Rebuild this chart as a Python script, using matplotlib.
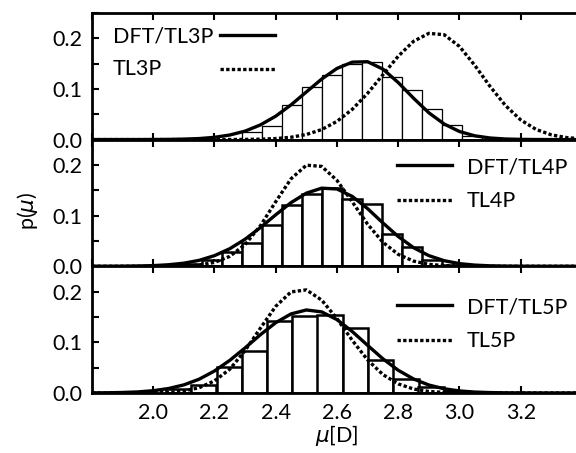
import matplotlib.pyplot as plt
from matplotlib.ticker import MultipleLocator

plt.rcParams['font.family'] = ['Lato', 'DejaVu Sans']
plt.rcParams['font.size'] = 15.5

# dipole moment grid for the fitted curves
mu = [1.80, 1.85, 1.90, 1.95, 2.00, 2.05, 2.10, 2.15, 2.20, 2.25, 2.30,
      2.35, 2.40, 2.45, 2.50, 2.55, 2.60, 2.65, 2.70, 2.75, 2.80, 2.85,
      2.90, 2.95, 3.00, 3.05, 3.10, 3.15, 3.20, 3.25, 3.30, 3.35, 3.40]

# panel 1: TL3P
fit_tl3p = [0, 0, 0, 0, 0.0001, 0.0003, 0.0009, 0.002, 0.0044, 0.009, 0.0167,
            0.0289, 0.0462, 0.0685, 0.094, 0.1194, 0.1404, 0.1528, 0.1536, 0.139, 0.1125, 0.0816,
            0.0528, 0.0307, 0.0159, 0.0074, 0.0031, 0.0011, 0.0004, 0.0001, 0, 0, 0]
ref_tl3p = [0, 0, 0, 0, 0, 0, 0, 0, 0, 0.0001, 0.0003,
            0.0008, 0.002, 0.0046, 0.01, 0.0197, 0.0359, 0.0597, 0.0913, 0.128, 0.1645, 0.1939,
            0.2096, 0.2069, 0.1837, 0.1464, 0.1047, 0.0672, 0.0387, 0.02, 0.0093, 0.0039, 0.0014]
bins_tl3p = [2.289, 2.354, 2.420, 2.485, 2.550, 2.616, 2.681, 2.746, 2.812, 2.877, 2.942, 3.008]
hist_tl3p = [0.015, 0.026, 0.069, 0.103, 0.127, 0.150, 0.153, 0.123, 0.097, 0.061, 0.028, 0.008]

# panel 2: TL4P
fit_tl4p = [0, 0.0001, 0.0002, 0.0006, 0.0013, 0.003, 0.0061, 0.0117, 0.021, 0.0347, 0.0534,
            0.0764, 0.1016, 0.1256, 0.1443, 0.1541, 0.1525, 0.1378, 0.1137, 0.0855, 0.0587, 0.0367,
            0.021, 0.011, 0.0052, 0.0023, 0.0009, 0.0003, 0.0001, 0, 0, 0, 0]
ref_tl4p = [0, 0, 0, 0, 0, 0.0002, 0.0007, 0.0025, 0.0076, 0.0196, 0.0429,
            0.0801, 0.1274, 0.1727, 0.1994, 0.1971, 0.1694, 0.127, 0.083, 0.0473, 0.0235, 0.0102,
            0.0038, 0.0013, 0.0004, 0.0001, 0, 0, 0, 0, 0, 0, 0]
bins_tl4p = [2.093, 2.158, 2.224, 2.289, 2.354, 2.420, 2.485, 2.550, 2.616, 2.681, 2.746,
             2.812, 2.877, 2.942]
hist_tl4p = [0.004, 0.013, 0.029, 0.046, 0.082, 0.120, 0.142, 0.155, 0.133, 0.122, 0.064,
             0.039, 0.013, 0.003]

# panel 3: TL5P
fit_tl5p = [0.0002, 0.0004, 0.001, 0.0021, 0.0045, 0.0088, 0.016, 0.0272, 0.0434, 0.0644, 0.089,
            0.115, 0.1387, 0.156, 0.1638, 0.16, 0.1447, 0.1212, 0.094, 0.0674, 0.0448, 0.0276,
            0.0157, 0.0083, 0.004, 0.0018, 0.0008, 0.0003, 0.0001, 0, 0, 0, 0]
ref_tl5p = [0, 0, 0, 0.0001, 0.0004, 0.0013, 0.004, 0.0104, 0.0239, 0.0469, 0.0837,
            0.128, 0.171, 0.1994, 0.2034, 0.1833, 0.1466, 0.1037, 0.0652, 0.0363, 0.0179, 0.0078,
            0.003, 0.001, 0.0003, 0.0001, 0, 0, 0, 0, 0, 0, 0]
bins_tl5p = [2.042, 2.124, 2.207, 2.289, 2.372, 2.454, 2.536, 2.619, 2.701, 2.784, 2.866, 2.948]
hist_tl5p = [0.008, 0.015, 0.051, 0.083, 0.143, 0.151, 0.154, 0.128, 0.066, 0.027, 0.011, 0.003]

labels = [('DFT/TL3P', 'TL3P'), ('DFT/TL4P', 'TL4P'), ('DFT/TL5P', 'TL5P')]
fits = [fit_tl3p, fit_tl4p, fit_tl5p]
refs = [ref_tl3p, ref_tl4p, ref_tl5p]
bins = [bins_tl3p, bins_tl4p, bins_tl5p]
hists = [hist_tl3p, hist_tl4p, hist_tl5p]
bin_w = [0.0654, 0.0654, 0.0824]
edge_w = [0.9, 1.8, 1.8]

# hand placed legend entries (axes fractions): text x, line x0, x1,
# text baselines, line heights
leg = [
    (0.043, 0.262, 0.373, (0.763, 0.511), (0.826, 0.558)),
    (0.765, 0.622, 0.735, (0.734, 0.466), (0.797, 0.521)),
    (0.765, 0.622, 0.735, (0.629, 0.361), (0.692, 0.416)),
]

fig = plt.figure(figsize=(5.76, 4.53), dpi=100)
left, width = 0.1597, 0.8507
h = 0.2797
bottoms = [0.1325 + 2 * h, 0.1325 + h, 0.1325]
dots = (1, 0.7)

for i in range(3):
    ax = fig.add_axes([left, bottoms[i], width, h])
    ax.bar(bins[i], hists[i], width=bin_w[i], align='edge', facecolor='white',
           edgecolor='black', linewidth=edge_w[i], zorder=2)
    ax.plot(mu, fits[i], color='black', lw=2.4, zorder=3)
    ax.plot(mu, refs[i], color='black', lw=2.4, dashes=dots, zorder=3)
    ax.set_xlim(1.8, 3.4)
    ax.set_ylim(0, 0.25)
    ax.xaxis.set_major_locator(MultipleLocator(0.2))
    ax.yaxis.set_minor_locator(MultipleLocator(0.05))
    ax.set_yticks([0.0, 0.1, 0.2])
    ax.set_yticklabels(['0.0', '0.1', '0.2'])
    ax.tick_params(axis='x', which='both', direction='in', top=True, bottom=True,
                   length=5, width=1.5, pad=7)
    ax.tick_params(axis='y', which='both', direction='in', left=True, right=False,
                   length=5, width=1.5, pad=7)
    for s in ax.spines.values():
        s.set_linewidth(2.0)
    ax.spines['right'].set_visible(False)

    tx, lx0, lx1, tys, lys = leg[i]
    ax.text(tx, tys[0], labels[i][0], transform=ax.transAxes, va='baseline', ha='left')
    ax.text(tx, tys[1], labels[i][1], transform=ax.transAxes, va='baseline', ha='left')
    ax.plot([lx0, lx1], [lys[0], lys[0]], transform=ax.transAxes, color='black', lw=2.4)
    ax.plot([lx0, lx1], [lys[1], lys[1]], transform=ax.transAxes, color='black', lw=2.4,
            dashes=dots)

    if i < 2:
        ax.tick_params(axis='x', labelbottom=False)
    else:
        ax.set_xticks([2.0, 2.2, 2.4, 2.6, 2.8, 3.0, 3.2])
        ax.set_xticklabels(['2.0', '2.2', '2.4', '2.6', '2.8', '3.0', '3.2'])
        ax.set_xlabel(r'$\mu$[D]', labelpad=0)

fig.text(0.048, 0.535, r'p($\mu$)', rotation=90, va='center', ha='center')

fig.savefig('out.png', dpi=100)
